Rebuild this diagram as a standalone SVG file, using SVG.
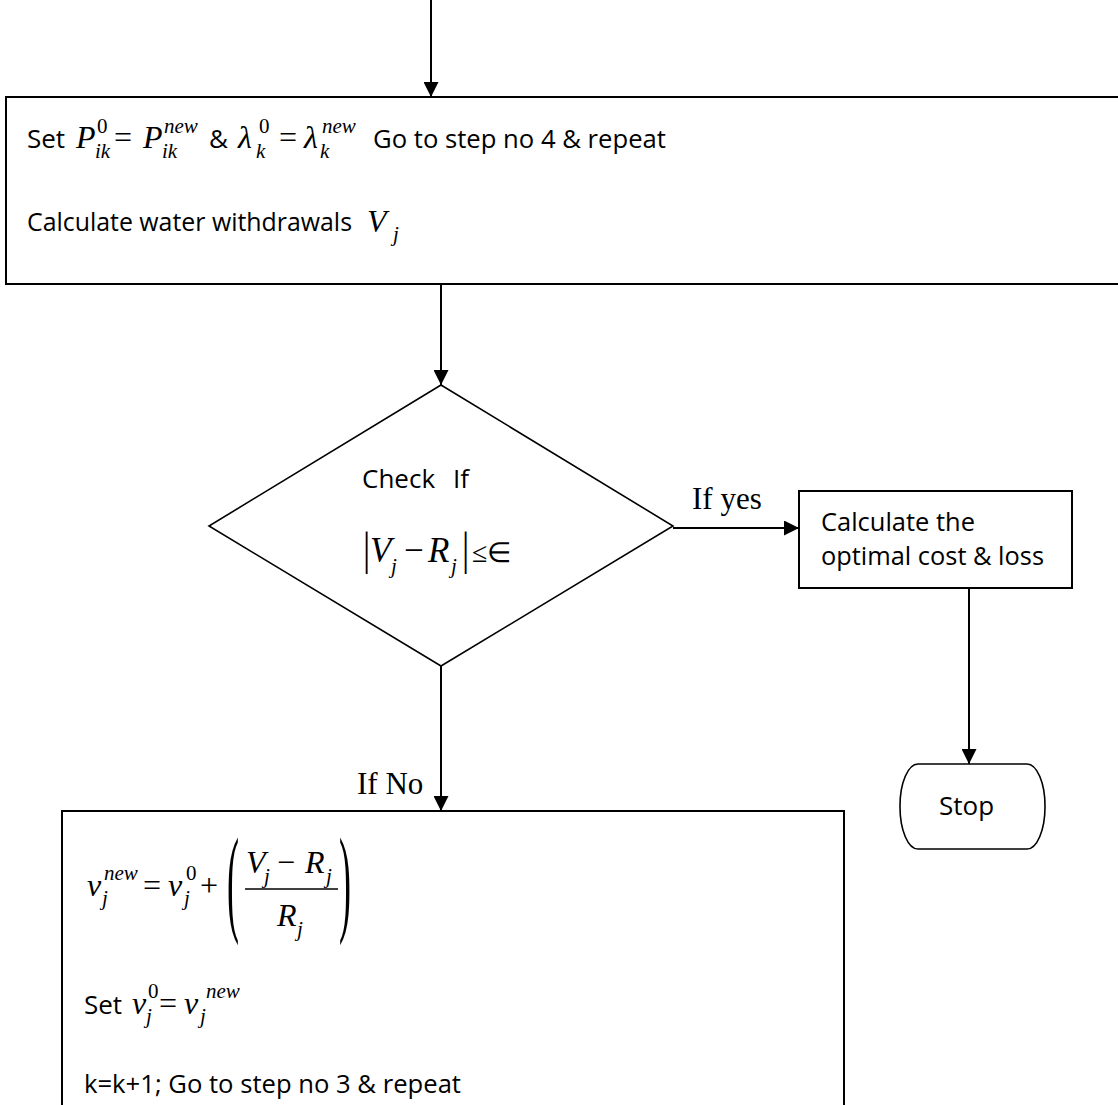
<svg xmlns="http://www.w3.org/2000/svg" width="1118" height="1105" viewBox="0 0 1118 1105">
<style>
.box{fill:#fff;stroke:#000;stroke-width:2}
.thin{fill:#fff;stroke:#000;stroke-width:1.6}
.con{fill:none;stroke:#000;stroke-width:2}
.t{font-family:"Open Sans","Liberation Sans",sans-serif;font-size:26px;fill:#000}
.m{font-family:"Liberation Serif","Times New Roman",serif;font-size:32px;font-style:italic;fill:#000}
.mu{font-family:"Liberation Serif","Times New Roman",serif;font-size:32px;fill:#000}
.s{font-family:"Liberation Serif","Times New Roman",serif;font-size:21px;font-style:italic;fill:#000}
.su{font-family:"Liberation Serif","Times New Roman",serif;font-size:21px;fill:#000}
.lbl{font-family:"Liberation Serif","Times New Roman",serif;font-size:31px;fill:#000}
</style>
<defs>
<marker id="arr" markerUnits="userSpaceOnUse" markerWidth="15" markerHeight="15" refX="15" refY="7.5" orient="auto">
<path d="M0,0 L15,7.5 L0,15 z" fill="#000"/>
</marker>
</defs>
<rect width="1118" height="1105" fill="#fff"/>

<g id="step-update">
<rect class="box" x="6" y="97" width="1200" height="187"/>
<text class="t" x="27" y="148">Set</text>
<text class="m" x="76" y="148">P</text><text class="su" x="97" y="133">0</text><text class="s" x="95" y="158">ik</text>
<text class="mu" x="114" y="148">=</text>
<text class="m" x="143" y="148">P</text><text class="s" x="164" y="133">new</text><text class="s" x="162" y="158">ik</text>
<text class="t" x="209" y="148">&amp;</text>
<text class="m" x="238" y="148">λ</text><text class="su" x="259" y="133">0</text><text class="s" x="256" y="158">k</text>
<text class="mu" x="279" y="148">=</text>
<text class="m" x="304" y="148">λ</text><text class="s" x="322" y="133">new</text><text class="s" x="320" y="158">k</text>
<text class="t" x="373" y="148" textLength="293" lengthAdjust="spacingAndGlyphs">Go to step no 4 &amp; repeat</text>
<text class="t" x="27" y="231" textLength="325" lengthAdjust="spacingAndGlyphs">Calculate water withdrawals</text>
<text class="m" x="367" y="232">V</text><text class="s" x="393" y="241">j</text>
</g>

<g id="check">
<polygon class="thin" points="441,385 673,526 441,666 209,526"/>
<text class="t" x="362" y="488">Check</text>
<text class="t" x="453" y="488">If</text>
<text class="mu" x="363" y="570" style="font-size:36px" transform="translate(0,-177) scale(1,1.3)">|</text>
<text class="m" x="370" y="562" style="font-size:35px">V</text><text class="s" x="391" y="573">j</text>
<text class="mu" x="404" y="562" style="font-size:35px">−</text>
<text class="m" x="428" y="562" style="font-size:35px">R</text><text class="s" x="451" y="573">j</text>
<text class="mu" x="462" y="570" style="font-size:36px" transform="translate(0,-177) scale(1,1.3)">|</text>
<text class="mu" x="472" y="562" style="font-size:28px">≤∈</text>
</g>

<g id="optimal">
<rect class="box" x="799" y="491" width="273" height="97"/>
<text class="t" x="821" y="531" textLength="154" lengthAdjust="spacingAndGlyphs">Calculate the</text>
<text class="t" x="821" y="565" textLength="223" lengthAdjust="spacingAndGlyphs">optimal cost &amp; loss</text>
</g>

<g id="stop">
<rect class="thin" x="900" y="764" width="145" height="85" rx="18" ry="42"/>
<text class="t" x="939" y="815">Stop</text>
</g>

<g id="step-v">
<path class="box" d="M62,1120 V811 H844 V1120"/>
<text class="m" x="87" y="896">v</text><text class="s" x="104" y="880">new</text><text class="s" x="102" y="905">j</text>
<text class="mu" x="143" y="896">=</text>
<text class="m" x="168" y="896">v</text><text class="su" x="186" y="880">0</text><text class="s" x="184" y="905">j</text>
<text class="mu" x="200" y="896">+</text>
<text class="mu" x="0" y="0" style="font-size:36px" transform="translate(227,919.8) scale(1,3.32)">(</text>
<text class="m" x="246" y="873">V</text><text class="s" x="264" y="883">j</text>
<text class="mu" x="277" y="873">−</text>
<text class="m" x="305" y="873">R</text><text class="s" x="326" y="883">j</text>
<line x1="245" y1="889" x2="338" y2="889" stroke="#000" stroke-width="1.4"/>
<text class="m" x="277" y="926">R</text><text class="s" x="297" y="936">j</text>
<text class="mu" x="0" y="0" style="font-size:36px" transform="translate(339,919.8) scale(1,3.32)">)</text>
<text class="t" x="84" y="1014">Set</text>
<text class="m" x="132" y="1014">v</text><text class="su" x="148" y="998">0</text><text class="s" x="146" y="1023">j</text>
<text class="mu" x="159" y="1014">=</text>
<text class="m" x="184" y="1014">v</text><text class="s" x="206" y="998">new</text><text class="s" x="200" y="1023">j</text>
<text class="t" x="84" y="1093" textLength="377" lengthAdjust="spacingAndGlyphs">k=k+1; Go to step no 3 &amp; repeat</text>
</g>

<g id="connectors">
<line class="con" x1="431" y1="0" x2="431" y2="97" marker-end="url(#arr)"/>
<line class="con" x1="441" y1="285" x2="441" y2="385" marker-end="url(#arr)"/>
<line class="con" x1="673" y1="528" x2="799" y2="528" marker-end="url(#arr)"/>
<line class="con" x1="969" y1="588" x2="969" y2="764" marker-end="url(#arr)"/>
<line class="con" x1="441" y1="666" x2="441" y2="811" marker-end="url(#arr)"/>
<text class="lbl" x="692" y="509">If yes</text>
<text class="lbl" x="357" y="794">If No</text>
</g>
</svg>
